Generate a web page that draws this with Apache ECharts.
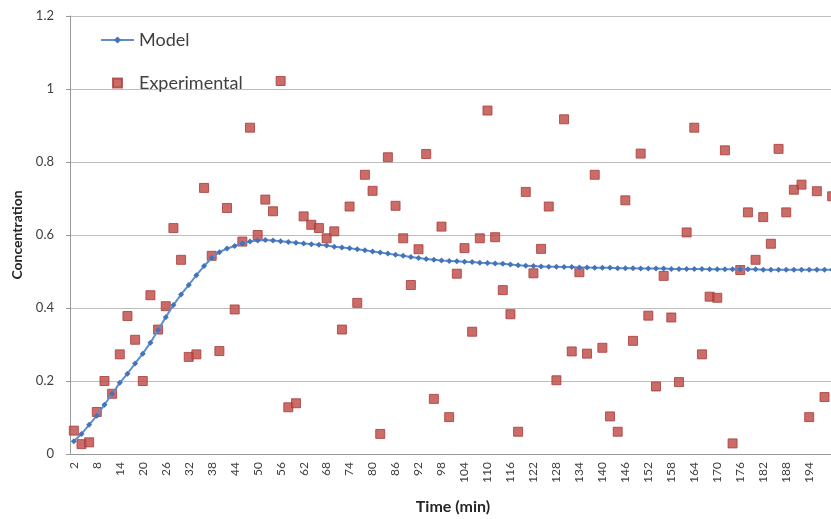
<!DOCTYPE html>
<html>
<head>
<meta charset="utf-8">
<script src="https://cdn.jsdelivr.net/npm/echarts@6/dist/echarts.min.js"></script>
<style>
  html, body { margin: 0; padding: 0; background: #fff; }
  #chart { width: 831px; height: 519px; }
</style>
</head>
<body>
<div id="chart"></div>
<script>
  // time points (min)
  var times = ['2','4','6','8','10','12','14','16','18','20',
    '22','24','26','28','30','32','34','36','38','40',
    '42','44','46','48','50','52','54','56','58','60',
    '62','64','66','68','70','72','74','76','78','80',
    '82','84','86','88','90','92','94','96','98','100',
    '102','104','106','108','110','112','114','116','118','120',
    '122','124','126','128','130','132','134','136','138','140',
    '142','144','146','148','150','152','154','156','158','160',
    '162','164','166','168','170','172','174','176','178','180',
    '182','184','186','188','190','192','194','196','198','200'];

  var model = [0.035, 0.055, 0.080, 0.105, 0.135, 0.165, 0.195, 0.220, 0.248, 0.275,
    0.305, 0.340, 0.375, 0.408, 0.437, 0.463, 0.490, 0.515, 0.537, 0.553,
    0.563, 0.570, 0.577, 0.582, 0.585, 0.586, 0.585, 0.583, 0.581, 0.579,
    0.577, 0.575, 0.573, 0.571, 0.568, 0.566, 0.564, 0.561, 0.558, 0.555,
    0.552, 0.549, 0.546, 0.543, 0.540, 0.537, 0.534, 0.532, 0.530, 0.529,
    0.528, 0.527, 0.526, 0.524, 0.523, 0.522, 0.521, 0.519, 0.517, 0.516,
    0.515, 0.514, 0.513, 0.513, 0.512, 0.512, 0.511, 0.511, 0.510, 0.510,
    0.510, 0.509, 0.509, 0.509, 0.508, 0.508, 0.508, 0.508, 0.507, 0.507,
    0.507, 0.507, 0.507, 0.506, 0.506, 0.506, 0.506, 0.506, 0.506, 0.506,
    0.505, 0.505, 0.505, 0.505, 0.505, 0.505, 0.505, 0.505, 0.505, 0.505];

  var experimental = [0.064, 0.027, 0.032, 0.115, 0.200, 0.165, 0.273, 0.378, 0.313, 0.200,
    0.435, 0.341, 0.405, 0.619, 0.532, 0.266, 0.273, 0.729, 0.543, 0.282,
    0.674, 0.396, 0.582, 0.894, 0.600, 0.697, 0.665, 1.022, 0.128, 0.139,
    0.651, 0.628, 0.619, 0.591, 0.610, 0.341, 0.678, 0.414, 0.765, 0.721,
    0.055, 0.813, 0.680, 0.591, 0.463, 0.561, 0.822, 0.151, 0.623, 0.101,
    0.494, 0.564, 0.335, 0.591, 0.941, 0.594, 0.449, 0.383, 0.061, 0.718,
    0.495, 0.562, 0.678, 0.202, 0.917, 0.281, 0.498, 0.275, 0.765, 0.291,
    0.103, 0.061, 0.695, 0.310, 0.823, 0.379, 0.185, 0.488, 0.374, 0.197,
    0.607, 0.894, 0.273, 0.431, 0.428, 0.832, 0.029, 0.504, 0.662, 0.532,
    0.649, 0.576, 0.836, 0.662, 0.724, 0.738, 0.101, 0.720, 0.156, 0.706];

  var chart = echarts.init(document.getElementById('chart'));

  chart.setOption({
    animation: false,
    textStyle: { fontFamily: 'Lato, "Liberation Sans", sans-serif' },
    legend: {
      orient: 'vertical',
      left: 100,
      top: 31,
      padding: 0,
      itemGap: 25,
      itemWidth: 33,
      itemHeight: 9,
      textStyle: { fontSize: 18, color: '#404040' },
      data: [
        { name: 'Model' },
        { name: 'Experimental', icon: 'path://M0,0L10,0L10,10L0,10Z' }
      ]
    },
    grid: {
      left: 70,
      top: 16,
      bottom: 65,
      width: 766,
      outerBoundsMode: 'none'
    },
    xAxis: {
      type: 'category',
      data: times,
      boundaryGap: true,
      name: 'Time (min)',
      nameLocation: 'middle',
      nameGap: 45,
      nameTextStyle: { fontSize: 16, fontWeight: 'bold', color: '#262626' },
      axisLine: { lineStyle: { color: '#9a9a9a' } },
      axisTick: { interval: 0, length: 4, lineStyle: { color: '#9a9a9a' } },
      axisLabel: {
        // every third time point; the last one falls off the canvas
        interval: function (index, value) { return index % 3 === 0 && value !== '200'; },
        rotate: 90,
        fontSize: 12,
        color: '#404040',
        margin: 8,
        padding: [4, 0, 0, 0]
      }
    },
    yAxis: {
      type: 'value',
      min: 0,
      max: 1.2,
      interval: 0.2,
      name: 'Concentration',
      nameLocation: 'middle',
      nameGap: 45,
      nameTextStyle: { fontSize: 14, fontWeight: 'bold', color: '#262626' },
      axisLine: { show: true, lineStyle: { color: '#9a9a9a' } },
      axisTick: { show: true, length: 4, lineStyle: { color: '#9a9a9a' } },
      axisLabel: { fontSize: 13, color: '#404040', margin: 16 },
      splitLine: { lineStyle: { color: '#bdbdbd' } }
    },
    series: [
      {
        name: 'Model',
        type: 'line',
        data: model,
        symbol: 'diamond',
        symbolSize: 6,
        showAllSymbol: true,
        lineStyle: { color: '#5b8fd0', width: 2 },
        itemStyle: { color: '#4572b8' }
      },
      {
        name: 'Experimental',
        type: 'scatter',
        data: experimental,
        symbol: 'rect',
        symbolSize: 9,
        itemStyle: { color: '#bf4744', borderColor: '#a63b39', borderWidth: 1 }
      }
    ]
  });
</script>
</body>
</html>
